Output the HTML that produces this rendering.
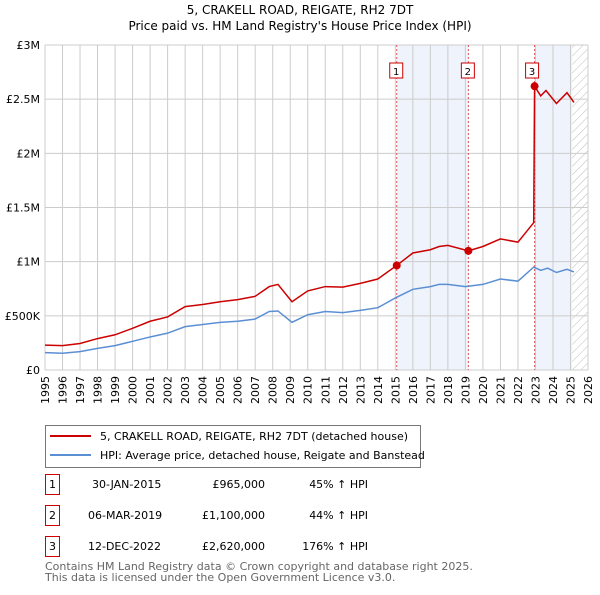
<!DOCTYPE html>
<html><head><meta charset="utf-8"><style>
body{margin:0;background:#fff;font-family:"Liberation Sans","DejaVu Sans",sans-serif;}
svg text{font-family:"DejaVu Sans","Liberation Sans",sans-serif;}
</style></head><body>
<svg width="600" height="590" xmlns="http://www.w3.org/2000/svg">
<defs><pattern id="hatch" width="6" height="6" patternUnits="userSpaceOnUse" patternTransform="rotate(45)"><line x1="0" y1="0" x2="0" y2="6" stroke="#bbb" stroke-width="1"/></pattern></defs>
<text x="300" y="14" text-anchor="middle" font-size="12">5, CRAKELL ROAD, REIGATE, RH2 7DT</text>
<text x="300" y="30" text-anchor="middle" font-size="12">Price paid vs. HM Land Registry's House Price Index (HPI)</text>
<g id="plot"></g>
<g>
<rect x="45.5" y="425.5" width="375" height="42" fill="#fff" stroke="#777"/>
<line x1="50" y1="436" x2="91" y2="436" stroke="#cc0000" stroke-width="2"/>
<text x="100" y="440" font-size="11">5, CRAKELL ROAD, REIGATE, RH2 7DT (detached house)</text>
<line x1="50" y1="455" x2="91" y2="455" stroke="#5b8fd4" stroke-width="2"/>
<text x="100" y="459" font-size="11">HPI: Average price, detached house, Reigate and Banstead</text>
</g>
<g font-size="11">
<rect x="45.5" y="474.5" width="14" height="20" fill="#fff" stroke="#cc0000"/><text x="52.5" y="488" text-anchor="middle">1</text>
<text x="92" y="488">30-JAN-2015</text><text x="265" y="488" text-anchor="end">£965,000</text><text x="368" y="488" text-anchor="end">45% ↑ HPI</text>
<rect x="45.5" y="505.5" width="14" height="20" fill="#fff" stroke="#cc0000"/><text x="52.5" y="519" text-anchor="middle">2</text>
<text x="88" y="519">06-MAR-2019</text><text x="265" y="519" text-anchor="end">£1,100,000</text><text x="368" y="519" text-anchor="end">44% ↑ HPI</text>
<rect x="45.5" y="536.5" width="14" height="20" fill="#fff" stroke="#cc0000"/><text x="52.5" y="550" text-anchor="middle">3</text>
<text x="88" y="550">12-DEC-2022</text><text x="265" y="550" text-anchor="end">£2,620,000</text><text x="368" y="550" text-anchor="end">176% ↑ HPI</text>
</g>
<text x="45" y="570" font-size="11" fill="#666">Contains HM Land Registry data © Crown copyright and database right 2025.</text>
<text x="45" y="581" font-size="11" fill="#666">This data is licensed under the Open Government Licence v3.0.</text>
</svg>
<script>
const yTicks=[0,500000,1000000,1500000,2000000,2500000,3000000];
const yTickLabels=["£0","£500K","£1M","£1.5M","£2M","£2.5M","£3M"];
const xYears=[1995,1996,1997,1998,1999,2000,2001,2002,2003,2004,2005,2006,2007,2008,2009,2010,2011,2012,2013,2014,2015,2016,2017,2018,2019,2020,2021,2022,2023,2024,2025,2026];
const hpiDates=[1995,1996,1997,1998,1999,2000,2001,2002,2003,2004,2005,2006,2007,2007.8,2008.3,2009.1,2010,2011,2012,2013,2014,2015,2016,2017,2017.5,2018,2019,2020,2021,2022,2022.9,2023.3,2023.7,2024.2,2024.8,2025.2];
const hpiValues=[160,155,170,200,225,265,305,340,400,420,440,450,470,540,545,440,510,540,530,550,575,665,745,770,790,790,770,790,840,820,950,920,940,900,930,905];
const priceDates=[1995,1996,1997,1998,1999,2000,2001,2002,2003,2004,2005,2006,2007,2007.8,2008.3,2009.1,2010,2011,2012,2013,2014,2015.08,2016,2017,2017.5,2018,2019.17,2020,2021,2022,2022.9,2022.95,2023.3,2023.6,2024.2,2024.8,2025.2];
const priceValues=[230,225,245,290,325,385,450,490,585,605,630,650,680,770,790,630,730,770,765,800,840,965,1080,1110,1140,1150,1100,1140,1210,1180,1360,2620,2530,2580,2460,2560,2470];
const saleDates=[2015.08,2019.17,2022.95];
const saleValues=[965000,1100000,2620000];
const saleLabels=["1","2","3"];

const NS="http://www.w3.org/2000/svg";
const X0=45,X1=588,Y0=370,Y1=45;
const xs=t=>X0+(t-1995)/(2026-1995)*(X1-X0);
const ys=v=>Y0-v/3000000*(Y0-Y1);
const g=document.getElementById('plot');
function mk(tag,attrs,parent){const e=document.createElementNS(NS,tag);for(const k in attrs)e.setAttribute(k,attrs[k]);(parent||g).appendChild(e);return e;}
let s1=mk('rect',{x:xs(saleDates[0]),y:Y1,width:xs(saleDates[1])-xs(saleDates[0]),height:Y0-Y1,fill:'#eef3fc'});


let s2=mk('rect',{x:xs(saleDates[2]),y:Y1,width:xs(2025.1)-xs(saleDates[2]),height:Y0-Y1,fill:'#eef3fc'});


let hz=mk('rect',{x:xs(2025.1),y:Y1,width:X1-xs(2025.1),height:Y0-Y1,fill:'url(#hatch)'});


xYears.forEach(y=>{mk('line',{x1:xs(y),x2:xs(y),y1:Y1,y2:Y0,stroke:'#ccc','stroke-width':1});
 let t=mk('text',{x:0,y:0,'font-size':11,'text-anchor':'end',transform:`translate(${xs(y)+4},${Y0+6}) rotate(-90)`});t.textContent=y;
 
 });
yTicks.forEach((v,i)=>{mk('line',{x1:X0,x2:X1,y1:ys(v),y2:ys(v),stroke:'#ccc','stroke-width':1});
 let t=mk('text',{x:X0-5,y:ys(v)+4,'font-size':11,'text-anchor':'end'});t.textContent=yTickLabels[i];
 
 });
saleDates.forEach(d=>{mk('line',{x1:xs(d),x2:xs(d),y1:Y1,y2:Y0,stroke:'#e05555','stroke-width':1,'stroke-dasharray':'2,2'});});
let hp=mk('polyline',{points:hpiDates.map((d,i)=>xs(d)+','+ys(hpiValues[i]*1000)).join(' '),fill:'none',stroke:'#5b8fd4','stroke-width':1.5});


let pp=mk('polyline',{points:priceDates.map((d,i)=>xs(d)+','+ys(priceValues[i]*1000)).join(' '),fill:'none',stroke:'#cc0000','stroke-width':1.5});


saleDates.forEach((d,i)=>{let c=mk('circle',{cx:xs(d),cy:ys(saleValues[i]),r:4,fill:'#cc0000'});
 
 
 let bx=xs(d)-7-(i==2?2:0);
 let r=mk('rect',{x:bx,y:63,width:13,height:15,fill:'#fff',stroke:'#cc0000'});
 
 
 let t=mk('text',{x:bx+6.5,y:75,'font-size':10,'text-anchor':'middle'});t.textContent=saleLabels[i];
 
 });
</script>
</body></html>
